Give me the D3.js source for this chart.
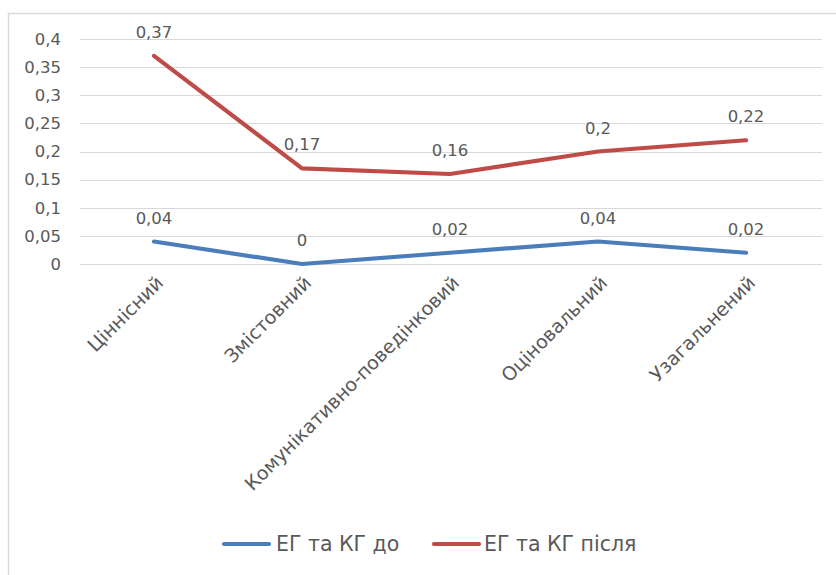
<!DOCTYPE html>
<html><head><meta charset="utf-8">
<script src="https://cdn.jsdelivr.net/npm/d3@7"></script>
<style>body{margin:0;background:#fff}svg{display:block}text{font-family:"DejaVu Sans",sans-serif;fill:#595959}</style>
</head><body><svg id="c" width="836" height="575"></svg>
<script>
const categories = ["Ціннісний","Змістовний","Комунікативно-поведінковий","Оціновальний","Узагальнений"];
const seriesNames = ["ЕГ та КГ до","ЕГ та КГ після"];
const before = [0.04, 0, 0.02, 0.04, 0.02];
const after = [0.37, 0.17, 0.16, 0.2, 0.22];
const yTicks = [0,0.05,0.1,0.15,0.2,0.25,0.3,0.35,0.4];
const colors = ["#4a7ebb","#be4b48"];

const svg = d3.select("#c");
const fmt = v => String(v).replace(".", ",");
const FF = "'DejaVu Sans',sans-serif";
// frame
svg.append("path").attr("d","M8.5,575 L8.5,13.5 L836,13.5").attr("fill","none").attr("stroke","#d9d9d9").attr("stroke-width",1.5);

const x = d3.scalePoint().domain(categories).range([154,746]);
const y = d3.scaleLinear().domain([0,0.4]).range([264,39]);

svg.append("g").selectAll("line").data(yTicks).join("line")
  .attr("x1",80).attr("x2",822).attr("y1",d=>Math.round(y(d))+0.5).attr("y2",d=>Math.round(y(d))+0.5)
  .attr("stroke","#d9d9d9").attr("stroke-width",1.2);

const yAxis = svg.append("g").attr("transform","translate(61,0)")
  .call(d3.axisLeft(y).tickValues(yTicks).tickSize(0).tickPadding(0).tickFormat(fmt));
yAxis.select(".domain").remove();
yAxis.selectAll("text").attr("font-size",16.5).style("fill","#595959").style("font-family",FF);

const xAxis = svg.append("g").attr("transform","translate(0,264)")
  .call(d3.axisBottom(x).tickSize(0).tickPadding(0));
xAxis.select(".domain").remove();
xAxis.selectAll("text")
  .attr("font-size",19).style("fill","#595959").style("font-family",FF)
  .attr("text-anchor","end").attr("dy",0).attr("y",0)
  .attr("transform","translate(10,20) rotate(-45)");

const line = d3.line().x((d,i)=>x(categories[i])).y(d=>y(d));
[before, after].forEach((s,k)=>{
  svg.append("path").datum(s).attr("d",line).attr("fill","none")
    .attr("stroke",colors[k]).attr("stroke-width",4.2).attr("stroke-linecap","round").attr("stroke-linejoin","round");
  svg.selectAll(null).data(s).join("text")
    .attr("x",(d,i)=>x(categories[i])).attr("y",d=>y(d)-18)
    .attr("text-anchor","middle").attr("font-size",16.5).text(fmt);
});

// legend
const leg = [{x:222,tx:276},{x:432,tx:484}];
leg.forEach((l,k)=>{
  svg.append("line").attr("x1",l.x+2).attr("x2",l.x+47).attr("y1",544).attr("y2",544)
    .attr("stroke",colors[k]).attr("stroke-width",4.2).attr("stroke-linecap","round");
  svg.append("text").attr("x",l.tx).attr("y",551).attr("font-size",20.5).text(seriesNames[k]);
});
</script></body></html>
